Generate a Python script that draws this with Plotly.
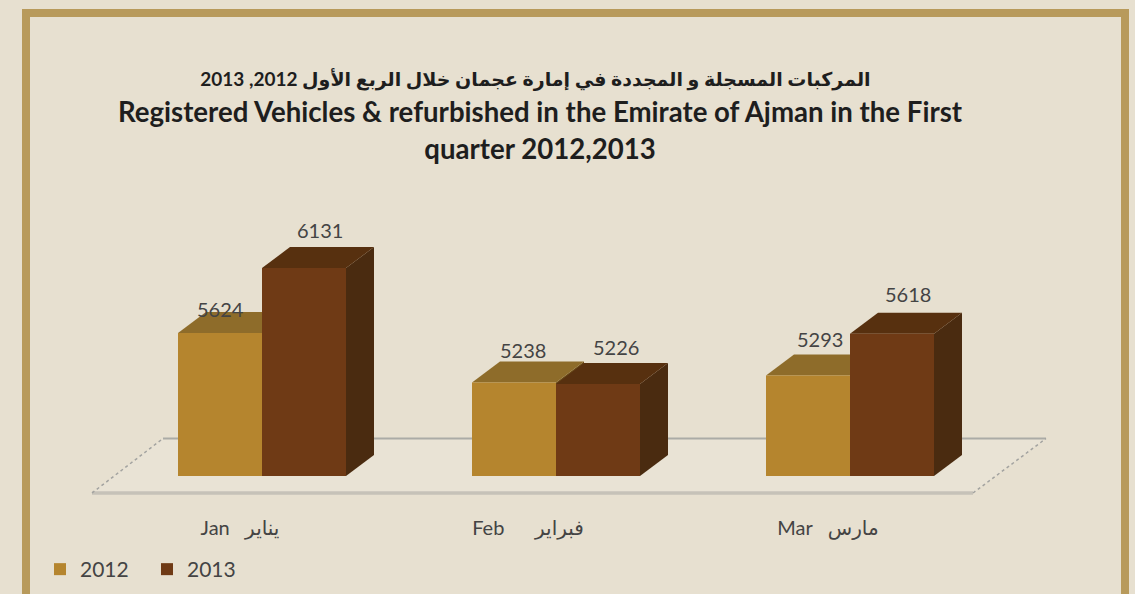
import plotly.graph_objects as go

# ---- data ----
months = ["Jan   يناير", "Feb      فبراير", "Mar   مارس"]
series_names = ["2012", "2013"]
values_2012 = [5624, 5238, 5293]
values_2013 = [6131, 5226, 5618]

title_ar = "المركبات المسجلة و المجددة في إمارة عجمان خلال الربع الأول 2012, 2013\u00a0\u00a0"
title_en_1 = "Registered Vehicles &amp; refurbished in the Emirate of Ajman in the First"
title_en_2 = "quarter 2012,2013"

# ---- style / geometry ----
W, H = 1135, 594
L, R, T, B = 60, 1090, 200, 510     # plot area in page pixels
CAT_PX = 294.0                      # pixels per category
FIRST_CAT_PX = 262.0
PX_PER_UNIT = 0.1282
BASE = 4509.0
BASE_PX = 476.0
BAR = 84 / CAT_PX
DX = 28 / CAT_PX
DY = 21 / PX_PER_UNIT
TICK_SHIFT_PX = [-22, -28, -22]

BG = "#E7E0D0"
FRAME = "#B89A5B"
FRONT = {"2012": "#B5852E", "2013": "#6F3A15"}
TOP = {"2012": "#8E6C2A", "2013": "#57300F"}
SIDE = {"2012": "#6B4A18", "2013": "#4A2B10"}
TEXT = "#444444"
FONT = "Lato, DejaVu Sans, sans-serif"

def xd(px):
    return (px - FIRST_CAT_PX) / CAT_PX

def yd(px):
    return BASE + (BASE_PX - px) / PX_PER_UNIT

xr = [xd(L), xd(R)]
yr = [yd(B), yd(T)]
cats = list(range(len(months)))

fig = go.Figure()

# floor plate
floor_x = [xd(92), xd(973), xd(1046), xd(163), xd(92)]
floor_y = [yd(493), yd(493), yd(438.5), yd(438.5), yd(493)]
fig.add_trace(go.Scatter(x=floor_x, y=floor_y, mode="lines", fill="toself",
                         fillcolor="#E9E3D5", line=dict(width=0),
                         showlegend=False, hoverinfo="skip"))
fig.add_trace(go.Scatter(x=floor_x[0:2], y=floor_y[0:2], mode="lines",
                         line=dict(color="#C6C2B8", width=3.5), showlegend=False, hoverinfo="skip"))
fig.add_trace(go.Scatter(x=floor_x[2:4], y=floor_y[2:4], mode="lines",
                         line=dict(color="#ABABA6", width=2), showlegend=False, hoverinfo="skip"))
for seg in ([0, 3], [1, 2]):
    fig.add_trace(go.Scatter(x=[floor_x[s] for s in seg], y=[floor_y[s] for s in seg], mode="lines",
                             line=dict(color="#A3A3A0", width=1.5, dash="dot"),
                             showlegend=False, hoverinfo="skip"))

# extruded faces of the bars, derived from the values
for name, vals, off in ((series_names[0], values_2012, -BAR), (series_names[1], values_2013, 0.0)):
    for c, v in zip(cats, vals):
        x0, x1 = c + off, c + off + BAR
        fig.add_trace(go.Scatter(
            x=[x1, x1, x1 + DX, x1 + DX, x1], y=[BASE, v, v + DY, BASE + DY, BASE],
            mode="lines", fill="toself", fillcolor=SIDE[name], line=dict(width=0),
            showlegend=False, hoverinfo="skip"))
        fig.add_trace(go.Scatter(
            x=[x0, x1, x1 + DX, x0 + DX, x0], y=[v, v, v + DY, v + DY, v],
            mode="lines", fill="toself", fillcolor=TOP[name], line=dict(width=0),
            showlegend=False, hoverinfo="skip"))

# front faces (real bars, on overlaid axes so they cover the extrusion)
for name, vals in ((series_names[0], values_2012), (series_names[1], values_2013)):
    fig.add_trace(go.Bar(name=name, x=cats, y=[v - BASE for v in vals], base=BASE,
                         marker=dict(color=FRONT[name], line=dict(width=0)),
                         xaxis="x2", yaxis="y2",
                         customdata=vals, hovertemplate="%{customdata}<extra>" + name + "</extra>"))

# hand-placed value labels, as in the reference
label_shift = {"2012": [(0, 24), (9, 33), (12, 36)], "2013": [(16, 38), (18, 37), (16, 40)]}
annotations = []
for name, vals, off in ((series_names[0], values_2012, -BAR / 2), (series_names[1], values_2013, BAR / 2)):
    for c, v, (sx, sy) in zip(cats, vals, label_shift[name]):
        annotations.append(dict(x=c + off, y=v, xref="x", yref="y", text=str(v), showarrow=False,
                                xshift=sx, yshift=sy, xanchor="center", yanchor="middle",
                                font=dict(family=FONT, size=20, color=TEXT)))

# with zero margins, paper coordinates are fractions of the page
def px_x(px):
    return px / W

def px_y(px):
    return 1 - px / H

frame = dict(type="rect", xref="paper", yref="paper", layer="below",
             x0=px_x(26), x1=px_x(1125), y0=px_y(640), y1=px_y(13),
             line=dict(color=FRAME, width=8), fillcolor=BG)

title_text = "<br>".join([
    '<span style="font-size:19px">%s</span>' % title_ar,
    '<span style="font-size:27.6px">%s</span>' % title_en_1,
    '<span style="font-size:27.6px">%s</span>' % title_en_2,
])

x_dom = [px_x(L), px_x(R)]
y_dom = [px_y(B), px_y(T)]

fig.update_layout(
    width=W, height=H, autosize=False,
    margin=dict(l=0, r=0, t=0, b=0, pad=0),
    paper_bgcolor=BG, plot_bgcolor="rgba(0,0,0,0)",
    barmode="group", bargap=1 - 2 * BAR, bargroupgap=0,
    title=dict(text=title_text, x=540 / W, xanchor="center", y=1 - 86 / H, yanchor="top",
               font=dict(family=FONT, size=28, color="#1E1E1E", weight="bold"), automargin=False),
    xaxis=dict(domain=x_dom, range=xr, tickmode="array",
               tickvals=[c + s / CAT_PX for c, s in zip(cats, TICK_SHIFT_PX)], ticktext=months,
               showgrid=False, zeroline=False, showline=False, ticks="", ticklabelstandoff=4,
               tickfont=dict(family=FONT, size=20, color=TEXT), fixedrange=True),
    yaxis=dict(domain=y_dom, range=yr, visible=False, fixedrange=True),
    xaxis2=dict(domain=x_dom, range=xr, overlaying="x", anchor="y2", visible=False, fixedrange=True),
    yaxis2=dict(domain=y_dom, range=yr, overlaying="y", anchor="x2", visible=False, fixedrange=True),
    legend=dict(orientation="h", x=px_x(40), y=px_y(549), xanchor="left", yanchor="top",
                entrywidth=62, entrywidthmode="pixels", bgcolor="rgba(0,0,0,0)",
                font=dict(family=FONT, size=21, color=TEXT)),
    shapes=[frame],
    annotations=annotations,
)

fig.write_html("out.html", config={"displayModeBar": False},
               post_script="document.body.style.margin='0';document.body.style.overflow='hidden';")
